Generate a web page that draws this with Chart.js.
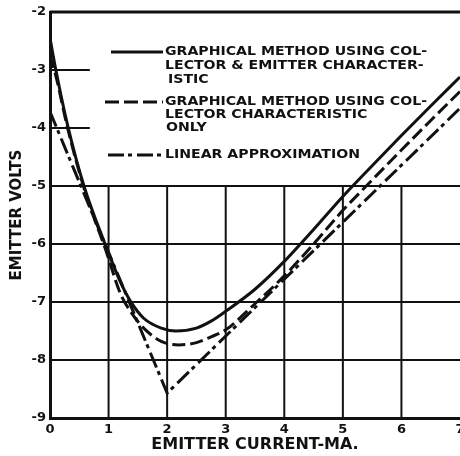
<!DOCTYPE html>
<html><head><meta charset="utf-8">
<script src="https://cdn.jsdelivr.net/npm/chart.js@4.4.1/dist/chart.umd.min.js"></script>
<style>html,body{margin:0;padding:0;background:#fff;overflow:hidden;width:460px;height:456px}</style>
</head><body>
<canvas id="c" width="470" height="456" style="display:block;width:470px;height:456px"></canvas>
<script>
// ---- data ----
const xTicks = [0, 1, 2, 3, 4, 5, 6, 7];
const yTicks = [-9, -8, -7, -6, -5, -4, -3, -2];

// Graphical method using collector & emitter characteristic (solid)
const bothX = [0, 0.1, 0.3, 0.58, 0.94, 1.2, 1.37, 1.6, 1.9, 2.15, 2.5, 2.75, 3.0, 3.5, 4.0, 4.5, 5.0, 5.5, 6.0, 6.5, 7.0];
const bothY = [-2.45, -3.0, -3.95, -5.0, -6.0, -6.65, -6.98, -7.28, -7.45, -7.5, -7.45, -7.33, -7.16, -6.78, -6.3, -5.75, -5.18, -4.65, -4.13, -3.62, -3.12];

// Graphical method using collector characteristic only (dashed)
const collX = [0, 0.1, 0.3, 0.6, 0.95, 1.2, 1.4, 1.6, 1.9, 2.2, 2.5, 2.75, 3.0, 3.5, 4.0, 4.5, 5.0, 5.4, 6.0, 6.5, 7.0];
const collY = [-2.75, -3.1, -4.0, -5.1, -6.1, -6.85, -7.2, -7.45, -7.68, -7.74, -7.7, -7.6, -7.48, -7.03, -6.55, -6.0, -5.42, -5.0, -4.38, -3.87, -3.37];

// Linear approximation (dash-dot)
const linX = [0, 2, 7];
const linY = [-3.72, -8.57, -3.66];

const seriesNames = [
  ['GRAPHICAL METHOD USING COL-', 'LECTOR & EMITTER CHARACTER-', 'ISTIC'],
  ['GRAPHICAL METHOD USING COL-', 'LECTOR CHARACTERISTIC', 'ONLY'],
  ['LINEAR APPROXIMATION']
];
const xTitle = 'EMITTER CURRENT-MA.';
const yTitle = 'EMITTER VOLTS';

const fullGridY = [-5, -6, -7, -8];
const shortGridY = [-3, -4];
const shortGridEnd = 0.68;
const gridX = [1, 2, 3, 4, 5, 6];
const gridXFrom = -5;

// ---- chart ----
const pts = (xs, ys) => xs.map((x, i) => ({x, y: ys[i]}));
const INK = '#111';
const FONT = '"DejaVu Sans", "Liberation Sans", sans-serif';

const gridPlugin = {
  id: 'grid',
  beforeDatasetsDraw(chart) {
    const {ctx, chartArea: a, scales: {x, y}} = chart;
    ctx.save();
    ctx.strokeStyle = INK;
    ctx.lineCap = 'butt';
    const line = (x1, y1, x2, y2) => { ctx.beginPath(); ctx.moveTo(x1, y1); ctx.lineTo(x2, y2); ctx.stroke(); };
    ctx.lineWidth = 2;
    fullGridY.forEach(v => { const p = y.getPixelForValue(v); line(a.left, p, a.right, p); });
    shortGridY.forEach(v => { const p = y.getPixelForValue(v); line(a.left, p, x.getPixelForValue(shortGridEnd), p); });
    gridX.forEach(v => { const p = x.getPixelForValue(v); line(p, y.getPixelForValue(gridXFrom), p, a.bottom); });
    ctx.lineWidth = 3;
    const t = y.getPixelForValue(yTicks[yTicks.length - 1]);
    line(a.left, t, a.right + 2, t);
    ctx.restore();
  }
};

const legendPlugin = {
  id: 'customLegend',
  afterDraw(chart) {
    const ctx = chart.ctx;
    ctx.save();
    ctx.fillStyle = INK;
    ctx.strokeStyle = INK;
    ctx.lineWidth = 3;
    ctx.font = 'bold 12.5px ' + FONT;
    ctx.textBaseline = 'middle';
    const w0 = ctx.measureText(seriesNames[0][0]).width;
    const sx = 262 / w0;
    const samples = [
      {x1: 111, x2: 163, y: 52, dash: [], rows: [52, 66, 80], tx: [165, 165, 168]},
      {x1: 105, x2: 163, y: 102, dash: [14, 5], rows: [102, 115, 128], tx: [165, 165, 166]},
      {x1: 108, x2: 163, y: 155, dash: [16, 4, 4, 5], rows: [155], tx: [165]}
    ];
    samples.forEach((s, i) => {
      ctx.setLineDash(s.dash);
      ctx.beginPath(); ctx.moveTo(s.x1, s.y); ctx.lineTo(s.x2, s.y); ctx.stroke();
      seriesNames[i].forEach((txt, j) => {
        ctx.save();
        ctx.translate(s.tx[j], s.rows[j]);
        ctx.scale(sx, 1);
        ctx.fillText(txt, 0, 0);
        ctx.restore();
      });
    });
    ctx.restore();
  }
};

new Chart(document.getElementById('c'), {
  type: 'scatter',
  data: {
    datasets: [
      {label: seriesNames[0].join(' '), data: pts(bothX, bothY), showLine: true, borderColor: INK, borderWidth: 3, pointRadius: 0, cubicInterpolationMode: 'monotone'},
      {label: seriesNames[1].join(' '), data: pts(collX, collY), showLine: true, borderColor: INK, borderWidth: 3, pointRadius: 0, borderDash: [13, 5], cubicInterpolationMode: 'monotone'},
      {label: seriesNames[2][0], data: pts(linX, linY), showLine: true, borderColor: INK, borderWidth: 3, pointRadius: 0, borderDash: [16, 4, 4, 5], tension: 0}
    ]
  },
  options: {
    responsive: false,
    devicePixelRatio: 1,
    animation: false,
    layout: {padding: {top: 12, right: 10, left: 0, bottom: 0}},
    plugins: {legend: {display: false}, tooltip: {enabled: false}},
    scales: {
      x: {
        type: 'linear', min: 0, max: 7,
        afterBuildTicks: s => { s.ticks = xTicks.map(v => ({value: v})); },
        afterFit: s => { s.height = 38; },
        ticks: {color: INK, font: {family: FONT, weight: 'bold', size: 13}, padding: 4, callback: v => String(v)},
        grid: {display: false, drawTicks: false},
        border: {display: true, color: INK, width: 3},
        title: {display: true, text: xTitle, color: INK, font: {family: FONT, weight: 'bold', size: 16}, padding: {top: 0, bottom: 2}}
      },
      y: {
        type: 'linear', min: -9, max: -2,
        afterBuildTicks: s => { s.ticks = yTicks.map(v => ({value: v})); },
        afterFit: s => { s.width = 50; },
        ticks: {color: INK, font: {family: FONT, weight: 'bold', size: 13}, padding: 4, callback: v => String(v)},
        grid: {display: false, drawTicks: false},
        border: {display: true, color: INK, width: 3},
        title: {display: true, text: yTitle, color: INK, font: {family: FONT, weight: 'bold', size: 15}, padding: {top: 8, bottom: 0}}
      }
    }
  },
  plugins: [gridPlugin, legendPlugin]
});
</script>
</body></html>
